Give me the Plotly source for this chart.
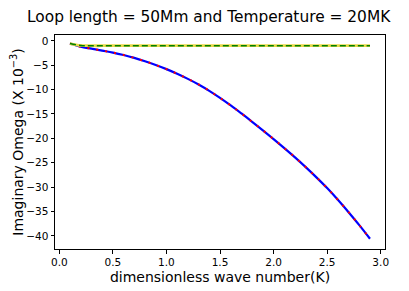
import plotly.graph_objects as go

K = [0.1, 0.2, 0.3, 0.4, 0.5, 0.6, 0.7, 0.8, 0.9, 1.0,
     1.1, 1.2, 1.3, 1.4, 1.5, 1.6, 1.7, 1.8, 1.9, 2.0,
     2.1, 2.2, 2.3, 2.4, 2.5, 2.6, 2.7, 2.8, 2.9]
imag_lower = [-0.55, -1.2, -1.6, -2.0, -2.4, -2.9, -3.5, -4.2, -4.95, -5.8,
              -6.75, -7.8, -8.95, -10.25, -11.7, -13.25, -14.9, -16.6, -18.35, -20.15,
              -22.0, -23.9, -25.9, -28.0, -30.2, -32.6, -35.15, -37.8, -40.6]
imag_upper = [-0.55, -0.95, -1.0, -1.0, -1.0, -1.0, -1.0, -1.0, -1.0, -1.0,
              -1.0, -1.0, -1.0, -1.0, -1.0, -1.0, -1.0, -1.0, -1.0, -1.0,
              -1.0, -1.0, -1.0, -1.0, -1.0, -1.0, -1.0, -1.0, -1.0]
x_ticks = [0.0, 0.5, 1.0, 1.5, 2.0, 2.5, 3.0]
y_ticks = [0, -5, -10, -15, -20, -25, -30, -35, -40]

FONT = "DejaVu Sans"
W, H = 401, 283  # page body adds an 8px offset

fig = go.Figure()
fig.add_trace(go.Scatter(x=K, y=imag_lower, mode="lines", line_shape="spline",
                         line=dict(color="blue", width=2.2), showlegend=False))
fig.add_trace(go.Scatter(x=K, y=imag_lower, mode="lines", line_shape="spline",
                         line=dict(color="red", width=2.0, dash="2px,7px"), showlegend=False))
fig.add_trace(go.Scatter(x=K, y=imag_upper, mode="lines", line_shape="spline",
                         line=dict(color="#e8d84a", width=2.8), showlegend=False))
fig.add_trace(go.Scatter(x=K, y=imag_upper, mode="lines", line_shape="spline",
                         line=dict(color="green", width=1.6, dash="6px,3px"), showlegend=False))

axis_common = dict(showline=True, linecolor="black", linewidth=1, mirror=True,
                   showgrid=False, zeroline=False, ticks="outside", ticklen=3.5,
                   tickcolor="black", automargin=False,
                   tickfont=dict(family=FONT, size=10.5, color="black"))

fig.update_layout(
    width=W, height=H,
    margin=dict(l=47, r=24, t=27, b=42),
    paper_bgcolor="white", plot_bgcolor="white",
    title=dict(text="Loop length = 50Mm and Temperature = 20MK",
               x=19 / W, xanchor="left", y=1 - 8.5 / H, yanchor="middle",
               font=dict(family=FONT, size=15.4, color="black")),
    xaxis=dict(range=[-0.04, 3.04], tickvals=x_ticks,
               ticktext=[f"{v:.1f}" for v in x_ticks],
               title=dict(text="dimensionless wave number(K)", standoff=5,
                          font=dict(family=FONT, size=14, color="black")),
               **axis_common),
    yaxis=dict(range=[-42.7, 1.2], tickvals=y_ticks,
               ticktext=[str(v).replace("-", "\u2212") for v in y_ticks],
               title=dict(text="Imaginary Omega (X 10<sup>\u22123</sup>)", standoff=5,
                          font=dict(family=FONT, size=14, color="black")),
               **axis_common),
)

fig.write_html("out.html")
